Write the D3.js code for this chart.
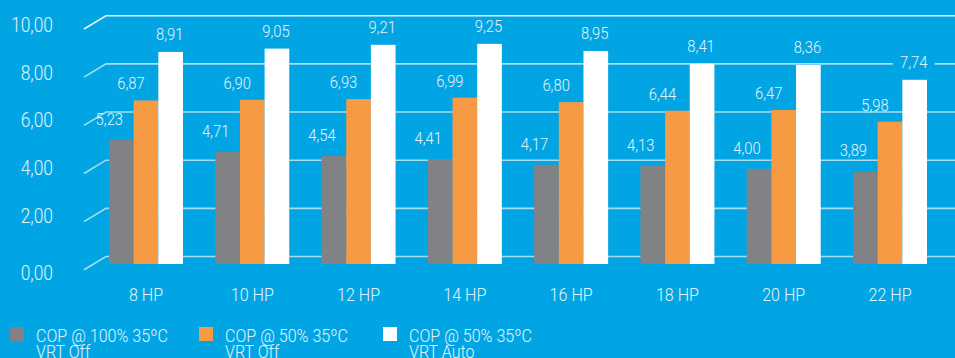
<!DOCTYPE html>
<html>
<head>
<meta charset="utf-8">
<script src="https://cdn.jsdelivr.net/npm/d3@7"></script>
<style>
  html, body { margin: 0; padding: 0; background: #02a5e3; }
  svg { display: block; }
  text { font-family: Roboto, "DejaVu Sans Condensed", sans-serif; font-weight: 300; fill: #e2f4fc; }
</style>
</head>
<body>
<div id="chart"></div>
<script>
// données
var categories = ["8 HP", "10 HP", "12 HP", "14 HP", "16 HP", "18 HP", "20 HP", "22 HP"];
var seriesNames = ["COP @ 100% 35ºC|VRT Off", "COP @ 50% 35ºC|VRT Off", "COP @ 50% 35ºC|VRT Auto"];
var cop100Off = [5.23, 4.71, 4.54, 4.41, 4.17, 4.13, 4.00, 3.89];
var cop50Off = [6.87, 6.90, 6.93, 6.99, 6.80, 6.44, 6.47, 5.98];
var cop50Auto = [8.91, 9.05, 9.21, 9.25, 8.95, 8.41, 8.36, 7.74];
var yTicks = [0, 2, 4, 6, 8, 10];

var colors = ["#818286", "#f79a44", "#ffffff"];
var bg = "#02a5e3";
var narrow = 0.87; // police étroite simulée

var width = 955, height = 358;

var svg = d3.select("#chart").append("svg")
    .attr("width", width)
    .attr("height", height);

// échelles
var y = d3.scaleLinear().domain([0, 10]).range([264, 26]);        // barres (plan avant)
var yGrid = d3.scaleLinear().domain([0, 10]).range([256.5, 15.7]); // grille (plan arrière)
var yLab = d3.scaleLinear().domain([0, 10]).range([270.7, 31.7]);  // libellés de l'axe

var x = d3.scaleBand()
    .domain(categories)
    .range([109 - 16.15, 927 + 16.15])
    .paddingInner(0.304)
    .paddingOuter(0.152);

var xSub = d3.scaleBand()
    .domain([0, 1, 2])
    .range([0, x.bandwidth()]);

var fmt = function(v) { return d3.format(".2f")(v).replace(".", ","); };
var place = function(px, py) { return "translate(" + px + "," + py + ") scale(" + narrow + ",1)"; };

// grille en perspective
var grid = svg.append("g");
yTicks.forEach(function(t) {
    var yy = yGrid(t);
    grid.append("path")
        .attr("d", "M84," + (yy + 13.3) + "L106," + yy + "L" + width + "," + yy)
        .attr("fill", "none")
        .attr("stroke", t === 10 ? "#e4f5fd" : "#a6dcf3")
        .attr("stroke-width", 1.6);
});

// axe Y
svg.append("g")
    .selectAll("text")
    .data(yTicks)
    .enter()
    .append("text")
    .attr("transform", function(d) { return place(53, yLab(d) + (d === 0 ? 9 : 0)); })
    .attr("text-anchor", "end")
    .attr("font-size", 20)
    .text(fmt);

// barres
var series = [cop100Off, cop50Off, cop50Auto];
var rows = [];
categories.forEach(function(c, i) {
    series.forEach(function(s, j) {
        rows.push({cat: c, s: j, v: s[i]});
    });
});

svg.append("g")
    .selectAll("rect")
    .data(rows)
    .enter()
    .append("rect")
    .attr("x", function(d) { return x(d.cat) + xSub(d.s); })
    .attr("y", function(d) { return y(d.v); })
    .attr("width", xSub.bandwidth())
    .attr("height", function(d) { return y(0) - y(d.v); })
    .attr("fill", function(d) { return colors[d.s]; });

// étiquettes des valeurs
var dxs = [-12, -15, -1], dys = [-15, -11, -12];
var labels = svg.append("g").selectAll("g")
    .data(rows)
    .enter()
    .append("g")
    .attr("transform", function(d) {
        return place(x(d.cat) + xSub(d.s) + xSub.bandwidth() / 2 + dxs[d.s], y(d.v) + dys[d.s]);
    });
// fond bleu sous les étiquettes blanches pour couper la grille (cas 7,74)
labels.filter(function(d) { return d.s === 2; })
    .append("rect")
    .attr("x", -24).attr("y", -14)
    .attr("width", 48).attr("height", 16)
    .attr("fill", bg);
labels.append("text")
    .attr("text-anchor", "middle")
    .attr("font-size", 17)
    .text(function(d) { return fmt(d.v); });

// axe X
svg.append("g")
    .selectAll("text")
    .data(categories)
    .enter()
    .append("text")
    .attr("transform", function(d) { return place(x(d) + x.bandwidth() / 2, 300.5); })
    .attr("text-anchor", "middle")
    .attr("font-size", 18.5)
    .text(function(d) { return d; });

// légende
var legX = [10, 199, 383];
var leg = svg.append("g").selectAll("g")
    .data(seriesNames)
    .enter()
    .append("g")
    .attr("transform", function(d, i) { return "translate(" + legX[i] + ",327)"; });
leg.append("rect")
    .attr("width", 14).attr("height", 14)
    .attr("fill", function(d, i) { return colors[i]; });
leg.each(function(d) {
    var parts = d.split("|");
    var g = d3.select(this);
    g.append("text")
        .attr("transform", place(26, 14.5))
        .attr("font-size", 18.5)
        .text(parts[0]);
    g.append("text")
        .attr("transform", place(26, 31))
        .attr("font-size", 18.5)
        .text(parts[1]);
});
</script>
</body>
</html>
